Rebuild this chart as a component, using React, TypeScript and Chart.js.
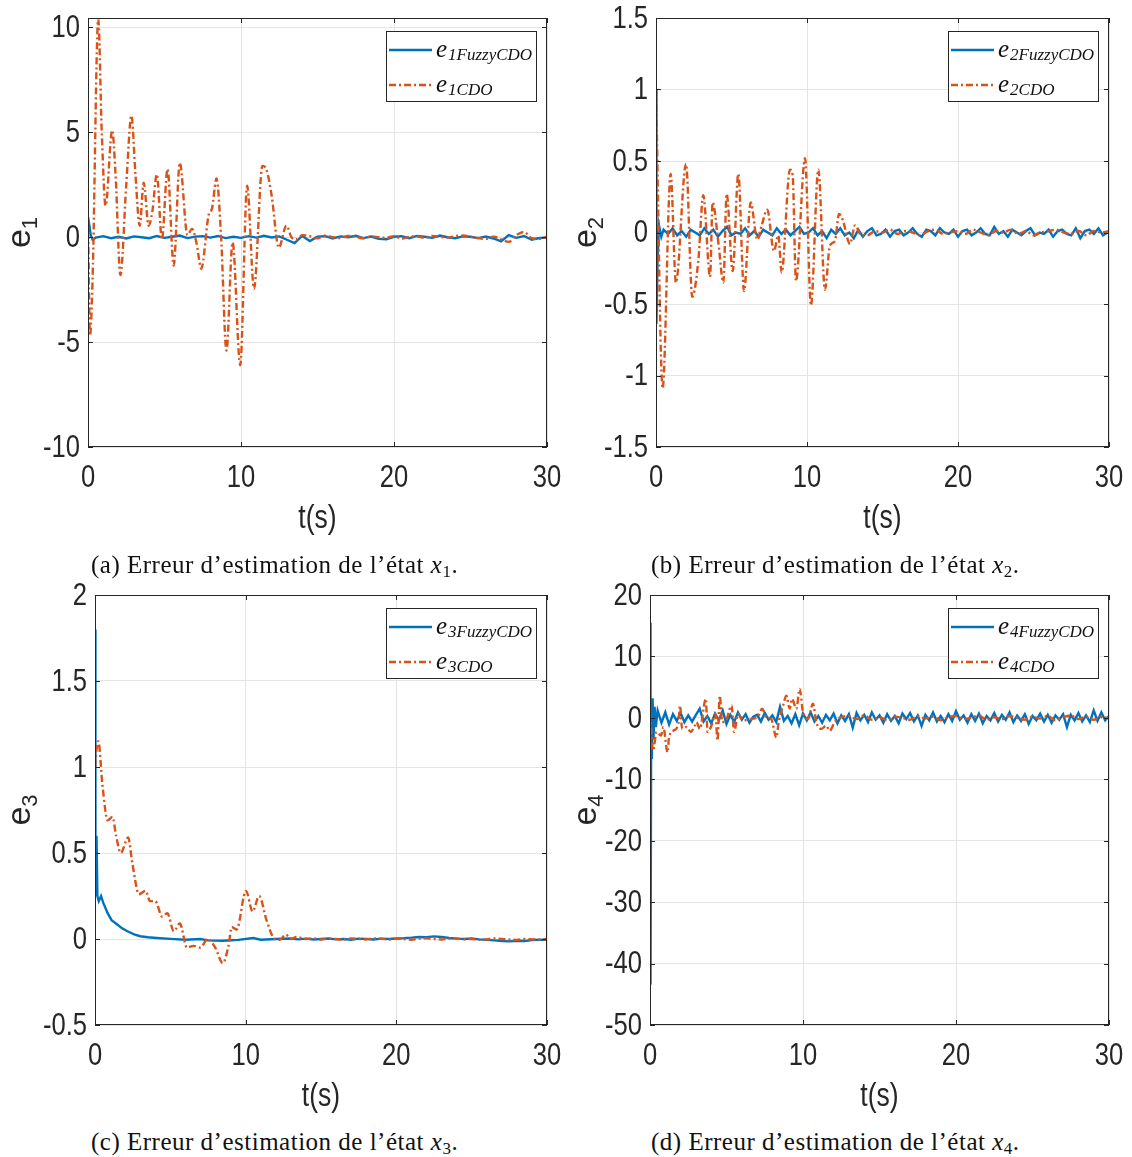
import React, { useEffect, useRef } from 'react';
import { Chart, registerables } from 'chart.js';

Chart.register(...registerables);

type Pt = [number, number];

// ---------------- shared axis data ----------------
const X_TICKS = [0, 10, 20, 30];
const X_TICK_LABELS = ['0', '10', '20', '30'];
const X_MIN = 0;
const X_MAX = 30;
const X_TITLE = 't(s)';

// ---------------- panel (a) : e1 ----------------
const A_Y_TICKS = [-10, -5, 0, 5, 10];
const A_Y_LABELS = ['-10', '-5', '0', '5', '10'];
const A_FUZZY_HEAD: Pt[] = [[0, 0.95], [0.08, 0.6], [0.18, 0.1], [0.3, -0.12], [0.5, -0.02]];
const A_FUZZY_TAIL = [
  0.05, -0.05, 0.02, -0.06, 0.04, 0.0, -0.05, 0.06, -0.03, 0.02,
  0.08, -0.04, 0.03, 0.05, -0.02, 0.06, -0.04, 0.02, -0.03, 0.05,
  -0.02, 0.07, -0.01, 0.04, -0.12, -0.28, 0.06, -0.18, 0.03, 0.05,
  -0.06, 0.04, 0.0, 0.07, -0.04, 0.03, -0.08, -0.1, 0.02, 0.05,
  -0.05, 0.06, 0.02, -0.03, 0.08, 0.0, -0.05, 0.04, 0.02, -0.04,
  0.03, -0.06, -0.2, 0.1, -0.03, 0.06, -0.12, -0.04, -0.02,
];
const A_FUZZY_T0 = 1.0;
const A_FUZZY_DT = 0.5;
const A_CDO_HEAD: Pt[] = [
  [0, 0.95], [0.13, -4.7], [0.3, -2], [0.67, 10.4], [0.9, 5], [1.15, 1.5], [1.58, 5.1], [1.8, 3],
  [2.12, -1.8], [2.5, 2.5], [2.84, 5.8], [3.1, 3], [3.38, 0.55], [3.64, 2.6], [3.96, 0.55], [4.2, 1.2],
  [4.5, 3.0], [4.83, -0.1], [5.2, 3.25], [5.6, -1.35], [6.0, 3.55], [6.5, 0.1], [6.8, 0.4], [7.1, -0.3],
  [7.4, -1.5], [7.9, 1.1], [8.1, 1.35], [8.4, 2.8], [8.7, 0], [9.05, -5.4], [9.45, -0.25], [9.95, -6.1],
  [10.4, 2.45], [10.85, -2.45], [11.4, 3.4], [11.65, 3.25], [12.0, 2.0], [12.47, -0.5], [12.97, 0.55],
  [13.3, 0.0], [13.65, -0.1],
];
const A_CDO_TAIL = [
  0.1, 0.05, -0.05, 0.08, 0.0, -0.04, 0.06, 0.02, -0.05, 0.04,
  0.0, -0.03, 0.05, -0.06, 0.02, 0.04, -0.03, 0.06, 0.02, -0.02,
  0.05, 0.08, 0.02, -0.04, -0.08, 0.03, -0.1, -0.22, 0.1, 0.25,
  -0.05, -0.08, 0.02,
];
const A_CDO_T0 = 14;
const A_CDO_DT = 0.5;

// ---------------- panel (b) : e2 ----------------
const B_Y_TICKS = [-1.5, -1, -0.5, 0, 0.5, 1, 1.5];
const B_Y_LABELS = ['-1.5', '-1', '-0.5', '0', '0.5', '1', '1.5'];
const B_FUZZY_HEAD: Pt[] = [[0, 1.0], [0.03, -0.64], [0.1, -0.2], [0.2, 0.05], [0.35, -0.03]];
const B_FUZZY_TAIL = [
  0.02, -0.01, 0.03, -0.02, 0.01, -0.03, 0.02, 0.0, -0.02, 0.03,
  -0.01, 0.02, -0.03, 0.01, 0.04, -0.02, 0.0, -0.01, 0.03, -0.02,
  0.01, -0.03, 0.02, 0.0, -0.02, 0.03, -0.01, 0.02, -0.02, 0.01,
  0.04, -0.01, 0.0, 0.03, -0.02, 0.01, -0.04, 0.02, -0.01, 0.03,
  -0.02, 0.0, -0.04, 0.02, -0.03, 0.01, 0.03, -0.02, -0.01, 0.02,
  -0.03, 0.01, 0.02, -0.02, 0.0, 0.03, -0.01, -0.03, 0.02, 0.01,
  -0.02, 0.03, 0.0, -0.01, 0.02, -0.03, 0.01, 0.02, -0.02, 0.0,
  0.03, -0.01, -0.02, 0.04, -0.01, 0.01, -0.03, 0.02, 0.0, -0.02,
  0.01, 0.03, -0.02, 0.0, -0.01, 0.02, -0.03, 0.01, 0.02, -0.01,
  -0.02, 0.03, -0.04, 0.01, 0.02, -0.01, 0.03, -0.02, 0.0,
];
const B_FUZZY_T0 = 0.5;
const B_FUZZY_DT = 0.3;
const B_CDO_HEAD: Pt[] = [
  [0, 1.0], [0.44, -1.09], [0.97, 0.41], [1.32, -0.35], [1.99, 0.48], [2.4, -0.45], [2.8, -0.2],
  [3.13, 0.26], [3.58, -0.31], [3.75, 0.21], [4.13, -0.07], [4.46, -0.35], [4.68, 0.27], [5.08, -0.27],
  [5.45, 0.41], [5.83, -0.41], [6.27, 0.21], [6.71, -0.05], [7.0, 0.05], [7.37, 0.16], [7.81, -0.13],
  [8.1, -0.02], [8.32, -0.28], [8.87, 0.44], [9.05, 0.4], [9.27, -0.34], [9.87, 0.52], [10.26, -0.51],
  [10.75, 0.44], [11.19, -0.4], [11.52, -0.09], [11.85, -0.06], [12.12, 0.13], [12.36, 0.09],
  [12.85, -0.08], [13.18, 0.05], [13.6, -0.02],
];
const B_CDO_TAIL = [
  -0.02, 0.01, 0.0, 0.02, -0.01, 0.01, 0.0, -0.02, 0.01, 0.02,
  -0.01, 0.0, 0.01, -0.01, 0.02, 0.0, -0.02, 0.01, 0.0, 0.02,
  -0.01, 0.01, -0.02, 0.0, 0.01, 0.02, 0.0, -0.01, 0.01, -0.02,
  0.01, 0.0, 0.01,
];
const B_CDO_T0 = 14;
const B_CDO_DT = 0.5;

// ---------------- panel (c) : e3 ----------------
const C_Y_TICKS = [-0.5, 0, 0.5, 1, 1.5, 2];
const C_Y_LABELS = ['-0.5', '0', '0.5', '1', '1.5', '2'];
const C_FUZZY_HEAD: Pt[] = [
  [0, 1.8], [0.03, 0.25], [0.1, 0.6], [0.16, 0.25], [0.25, 0.22], [0.4, 0.25], [0.55, 0.21],
  [0.84, 0.15], [1.1, 0.11], [1.5, 0.083], [1.8, 0.062], [2.15, 0.045], [2.6, 0.027], [3.0, 0.016],
  [3.5, 0.01], [4.1, 0.006], [5.0, 0.001], [6.0, -0.004], [7.0, 0.0], [7.5, -0.008], [8.5, -0.01],
  [9.5, -0.005], [10.5, 0.006], [11.0, -0.004], [12.0, 0.0], [13.0, 0.003], [13.5, -0.002],
];
const C_FUZZY_TAIL = [
  0.002, -0.003, 0.0, 0.003, -0.002, 0.0, -0.004, 0.002, 0.0, -0.003,
  0.002, 0.0, 0.003, 0.005, 0.008, 0.012, 0.01, 0.015, 0.012, 0.006,
  0.002, 0.0, 0.003, -0.002, -0.005, -0.008, -0.012, -0.014, -0.01, -0.012,
  -0.006, -0.004, -0.005,
];
const C_FUZZY_T0 = 14;
const C_FUZZY_DT = 0.5;
const C_CDO_HEAD: Pt[] = [
  [0, 1.0], [0.1, 1.1], [0.22, 1.15], [0.5, 0.89], [0.84, 0.69], [1.16, 0.71], [1.4, 0.6], [1.71, 0.5],
  [2.2, 0.59], [2.48, 0.44], [2.92, 0.26], [3.36, 0.28], [3.65, 0.22], [4.0, 0.22], [4.46, 0.13],
  [4.8, 0.15], [5.23, 0.045], [5.63, 0.09], [6.1, -0.05], [6.55, -0.04], [7.0, -0.05], [7.47, 0.0],
  [7.98, -0.05], [8.48, -0.14], [8.86, -0.04], [9.08, 0.07], [9.4, 0.055], [10.02, 0.28], [10.46, 0.16],
  [10.9, 0.25], [11.38, 0.11], [11.93, 0.0], [12.26, -0.005], [12.66, 0.025], [13.03, 0.0], [13.36, 0.012],
];
const C_CDO_TAIL = [
  0.0, 0.004, -0.003, 0.002, 0.0, -0.004, 0.003, 0.0, -0.002, 0.003,
  0.001, -0.003, 0.002, 0.0, -0.004, 0.002, 0.004, 0.0, -0.003, 0.002,
  0.003, -0.002, 0.0, -0.004, -0.002, 0.003, 0.0, -0.003, -0.005, 0.0,
  -0.002, -0.004, 0.0,
];
const C_CDO_T0 = 14;
const C_CDO_DT = 0.5;

// ---------------- panel (d) : e4 ----------------
const D_Y_TICKS = [-50, -40, -30, -20, -10, 0, 10, 20];
const D_Y_LABELS = ['-50', '-40', '-30', '-20', '-10', '0', '10', '20'];
const D_FUZZY_HEAD: Pt[] = [
  [0, 0], [0.02, 15.5], [0.05, -43.4], [0.08, 2.5], [0.12, -6.7], [0.17, 3.2], [0.23, -3.5],
  [0.3, 1.8], [0.38, -1.5],
];
const D_FUZZY_TAIL = [
  1.2, -0.8, 0.9, -1.1, 0.6, -0.5, 0.8, -0.7, 0.4, -0.6,
  0.5, 1.5, -0.6, 0.3, -0.9, 0.7, -0.4, 1.2, -1.0, 0.5,
  -0.7, 0.9, -0.3, 0.6, -0.8, 0.2, 0.5, -0.6, 0.8, -0.3,
  0.4, -0.7, 1.8, -0.5, 0.3, -0.9, 0.6, -1.2, 0.7, -0.4,
  0.9, -0.6, 0.3, -0.8, 0.5, -0.4, 0.7, -0.9, 0.4, -0.5,
  0.6, -1.6, 0.8, -0.4, 0.5, -0.7, 0.9, -0.3, 0.4, -0.8,
  0.6, -0.5, 0.3, -0.9, 0.7, -0.2, 0.8, -0.6, 0.4, -1.3,
  0.5, -0.4, 0.9, -0.6, 0.3, -0.7, 0.6, -0.5, 1.1, -0.3,
  0.4, -0.8, 0.6, -0.5, 0.7, -0.9, 0.3, -0.4, 0.8, -0.6,
  0.5, -0.3, 0.9, -0.7, 0.4, -0.5, 0.6, -1.0, 0.3, -0.4,
  0.7, -0.6, 0.5, -0.8, 0.4, -0.3, 0.6, -1.5, 0.5, -0.4,
  0.8, -0.6, 0.4, -0.7, 1.2, -0.5, 0.9, -0.4, 0.3,
];
const D_FUZZY_T0 = 0.5;
const D_FUZZY_DT = 0.25;
const D_CDO_HEAD: Pt[] = [
  [0, 0.9], [0.2, -5.3], [0.43, -2.3], [0.72, -2.9], [0.87, -1.5], [1.15, -5.6], [1.24, -3.2],
  [1.52, -2.1], [1.85, -1.0], [1.96, 2.0], [2.1, -1.8], [2.39, -1.5], [2.67, -2.3], [2.93, -1.25],
  [3.04, -0.7], [3.26, -1.8], [3.65, 3.1], [3.76, -2.3], [4.02, -1.25], [4.28, 0.65], [4.41, -3.7],
  [4.56, 3.6], [4.72, -0.7], [5.0, -0.2], [5.33, 2.0], [5.5, -2.3], [5.76, 0.65], [6.09, -0.4],
  [6.63, -0.2], [7.07, 0.3], [7.33, 1.5], [7.6, 0.1], [7.93, -0.2], [8.26, -3.2], [8.41, -0.7],
  [8.7, 2.0], [8.91, 3.6], [9.13, 1.5], [9.28, 3.1], [9.57, 1.5], [9.78, 4.7], [10.0, 0.9],
  [10.33, -0.2], [10.65, 2.3], [10.87, -0.7], [11.2, -1.8], [11.52, -1.25], [11.74, -2.1],
  [12.07, -0.7], [12.5, 0.1],
];
const D_CDO_TAIL = [
  0.3, -0.2, 0.4, -0.3, 0.1, -0.4, 0.2, 0.0, -0.3, 0.3,
  -0.1, 0.2, -0.4, 0.1, 0.3, -0.2, 0.0, 0.4, -0.3, 0.1,
  -0.2, 0.3, 0.0, -0.3, 0.2, -0.1, 0.3, -0.4, 0.1, 0.4,
  -0.2, 0.2, -0.3, 0.1, 0.0,
];
const D_CDO_T0 = 13;
const D_CDO_DT = 0.5;

// ---------------- styles ----------------
const BLUE = '#0072BD';
const ORANGE = '#D95319';
const GRID = '#e4e4e4';
const AXIS = '#262626';
const DASH = [7, 3, 2, 3];
const LINE_W = 2.4;
const TICK_FONT = '32px "Liberation Sans", Arial, sans-serif';
const TICK_SX = 0.8;
const TITLE_FONT = '34px "Liberation Sans", Arial, sans-serif';
const TITLE_SX = 0.78;

function series(head: Pt[], tail: number[], t0: number, dt: number) {
  return head
    .map(([x, y]) => ({ x, y }))
    .concat(tail.map((y, i) => ({ x: Math.round((t0 + i * dt) * 1000) / 1000, y })));
}

interface Panel {
  key: string;
  idx: string;
  canvas: { left: number; top: number; w: number; h: number };
  area: { l: number; t: number; r: number; b: number };
  yMin: number;
  yMax: number;
  yTicks: number[];
  yLabels: string[];
  yTitleX: number;
  fuzzy: { x: number; y: number }[];
  cdo: { x: number; y: number }[];
}

const PANELS: Panel[] = [
  {
    key: 'a', idx: '1',
    canvas: { left: 0, top: 0, w: 566, h: 545 },
    area: { l: 88, t: 18, r: 547, b: 447 },
    yMin: -10, yMax: 10.45, yTicks: A_Y_TICKS, yLabels: A_Y_LABELS, yTitleX: 30,
    fuzzy: series(A_FUZZY_HEAD, A_FUZZY_TAIL, A_FUZZY_T0, A_FUZZY_DT),
    cdo: series(A_CDO_HEAD, A_CDO_TAIL, A_CDO_T0, A_CDO_DT),
  },
  {
    key: 'b', idx: '2',
    canvas: { left: 566, top: 0, w: 566, h: 545 },
    area: { l: 656, t: 18, r: 1109, b: 447 },
    yMin: -1.5, yMax: 1.5, yTicks: B_Y_TICKS, yLabels: B_Y_LABELS, yTitleX: 596,
    fuzzy: series(B_FUZZY_HEAD, B_FUZZY_TAIL, B_FUZZY_T0, B_FUZZY_DT),
    cdo: series(B_CDO_HEAD, B_CDO_TAIL, B_CDO_T0, B_CDO_DT),
  },
  {
    key: 'c', idx: '3',
    canvas: { left: 0, top: 575, w: 566, h: 550 },
    area: { l: 95, t: 595, r: 547, b: 1025 },
    yMin: -0.5, yMax: 2, yTicks: C_Y_TICKS, yLabels: C_Y_LABELS, yTitleX: 30,
    fuzzy: series(C_FUZZY_HEAD, C_FUZZY_TAIL, C_FUZZY_T0, C_FUZZY_DT),
    cdo: series(C_CDO_HEAD, C_CDO_TAIL, C_CDO_T0, C_CDO_DT),
  },
  {
    key: 'd', idx: '4',
    canvas: { left: 566, top: 575, w: 566, h: 550 },
    area: { l: 650, t: 595, r: 1109, b: 1025 },
    yMin: -50, yMax: 20, yTicks: D_Y_TICKS, yLabels: D_Y_LABELS, yTitleX: 596,
    fuzzy: series(D_FUZZY_HEAD, D_FUZZY_TAIL, D_FUZZY_T0, D_FUZZY_DT),
    cdo: series(D_CDO_HEAD, D_CDO_TAIL, D_CDO_T0, D_CDO_DT),
  },
];

function scaledText(ctx: any, s: string, x: number, y: number, font: string, align: string, sx: number) {
  ctx.save();
  ctx.translate(x, y);
  ctx.scale(sx, 1);
  ctx.font = font;
  ctx.textAlign = align;
  ctx.textBaseline = 'middle';
  ctx.fillText(s, 0, 0);
  ctx.restore();
}

function decor(p: Panel) {
  return {
    id: 'decor_' + p.key,
    afterDraw(chart: any) {
      const { ctx, chartArea: a, scales } = chart;
      const xs = scales.x;
      const ys = scales.y;
      ctx.save();
      // axes box
      ctx.strokeStyle = AXIS;
      ctx.lineWidth = 1;
      ctx.setLineDash([]);
      ctx.strokeRect(Math.round(a.left) + 0.5, Math.round(a.top) + 0.5,
        Math.round(a.right - a.left) - 1, Math.round(a.bottom - a.top) - 1);
      // inward tick marks
      ctx.beginPath();
      X_TICKS.forEach((v) => {
        const px = Math.round(xs.getPixelForValue(v)) + 0.5;
        ctx.moveTo(px, a.bottom); ctx.lineTo(px, a.bottom - 5);
        ctx.moveTo(px, a.top); ctx.lineTo(px, a.top + 5);
      });
      p.yTicks.forEach((v) => {
        const py = Math.round(ys.getPixelForValue(v)) + 0.5;
        ctx.moveTo(a.left, py); ctx.lineTo(a.left + 5, py);
        ctx.moveTo(a.right, py); ctx.lineTo(a.right - 5, py);
      });
      ctx.stroke();

      // tick labels
      ctx.fillStyle = AXIS;
      p.yTicks.forEach((v, i) => {
        scaledText(ctx, p.yLabels[i], a.left - 8, ys.getPixelForValue(v) + 1, TICK_FONT, 'right', TICK_SX);
      });
      X_TICKS.forEach((v, i) => {
        scaledText(ctx, X_TICK_LABELS[i], xs.getPixelForValue(v), a.bottom + 31, TICK_FONT, 'center', TICK_SX);
      });
      // x title
      scaledText(ctx, X_TITLE, (a.left + a.right) / 2, a.bottom + 72, TITLE_FONT, 'center', TITLE_SX);

      // y title: e with subscript, rotated
      ctx.save();
      ctx.translate(p.yTitleX - p.canvas.left, (a.top + a.bottom) / 2);
      ctx.rotate(-Math.PI / 2);
      ctx.textBaseline = 'alphabetic';
      ctx.textAlign = 'left';
      ctx.font = TITLE_FONT;
      const we = ctx.measureText('e').width;
      ctx.font = '22px "Liberation Sans", Arial, sans-serif';
      const ws = ctx.measureText(p.idx).width;
      const start = -(we + ws) / 2;
      ctx.font = TITLE_FONT;
      ctx.fillText('e', start, 0);
      ctx.font = '22px "Liberation Sans", Arial, sans-serif';
      ctx.fillText(p.idx, start + we, 7);
      ctx.restore();

      // legend
      const bw = 150;
      const bh = 70;
      const bx = Math.round(a.right - 11 - bw);
      const by = Math.round(a.top + 13);
      ctx.fillStyle = '#ffffff';
      ctx.fillRect(bx, by, bw, bh);
      ctx.strokeStyle = AXIS;
      ctx.lineWidth = 1;
      ctx.strokeRect(bx + 0.5, by + 0.5, bw, bh);
      const rows = [
        { color: BLUE, dash: [] as number[], sub: p.idx + 'FuzzyCDO' },
        { color: ORANGE, dash: DASH, sub: p.idx + 'CDO' },
      ];
      rows.forEach((r, i) => {
        const y = by + 19 + 35 * i;
        ctx.beginPath();
        ctx.setLineDash(r.dash);
        ctx.strokeStyle = r.color;
        ctx.lineWidth = LINE_W;
        ctx.moveTo(bx + 3, y);
        ctx.lineTo(bx + 46, y);
        ctx.stroke();
        ctx.setLineDash([]);
        ctx.fillStyle = '#111';
        ctx.textAlign = 'left';
        ctx.textBaseline = 'alphabetic';
        ctx.font = 'italic 25px "Liberation Serif", "DejaVu Serif", serif';
        ctx.fillText('e', bx + 50, y + 6.5);
        const ew = ctx.measureText('e').width;
        ctx.font = 'italic 17px "Liberation Serif", "DejaVu Serif", serif';
        ctx.fillText(r.sub, bx + 50 + ew + 1, y + 10);
      });
      ctx.restore();
    },
  };
}

function makeConfig(p: Panel): any {
  const c = p.canvas;
  const a = {
    l: p.area.l - c.left,
    t: p.area.t - c.top,
    r: p.area.r - c.left,
    b: p.area.b - c.top,
  };
  return {
    type: 'line',
    data: {
      datasets: [
        {
          label: 'e' + p.idx + 'CDO',
          data: p.cdo,
          borderColor: ORANGE,
          borderWidth: LINE_W,
          borderDash: DASH,
          pointRadius: 0,
          fill: false,
          cubicInterpolationMode: 'monotone',
          order: 0,
        },
        {
          label: 'e' + p.idx + 'FuzzyCDO',
          data: p.fuzzy,
          borderColor: BLUE,
          borderWidth: LINE_W,
          pointRadius: 0,
          fill: false,
          tension: 0,
          order: 1,
        },
      ],
    },
    options: {
      responsive: false,
      maintainAspectRatio: false,
      animation: false,
      events: [],
      layout: { padding: { left: 0, top: a.t, right: c.w - a.r, bottom: 0 } },
      plugins: {
        legend: { display: false },
        tooltip: { enabled: false },
        title: { display: false },
      },
      scales: {
        x: {
          type: 'linear',
          min: X_MIN,
          max: X_MAX,
          grid: { color: GRID, lineWidth: 1, drawTicks: false },
          border: { display: false },
          ticks: { display: false },
          afterBuildTicks: (s: any) => { s.ticks = X_TICKS.map((v) => ({ value: v })); },
          afterFit: (s: any) => {
            s.height = c.h - a.b;
            s.paddingLeft = 0; s.paddingRight = 0; s.paddingTop = 0; s.paddingBottom = 0;
          },
        },
        y: {
          type: 'linear',
          min: p.yMin,
          max: p.yMax,
          grid: { color: GRID, lineWidth: 1, drawTicks: false },
          border: { display: false },
          ticks: { display: false, includeBounds: false },
          afterBuildTicks: (s: any) => { s.ticks = p.yTicks.map((v) => ({ value: v })); },
          afterFit: (s: any) => {
            s.width = a.l;
            s.paddingLeft = 0; s.paddingRight = 0; s.paddingTop = 0; s.paddingBottom = 0;
          },
        },
      },
    },
    plugins: [decor(p)],
  };
}

function ChartPanel({ p }: { p: Panel }) {
  const ref = useRef<HTMLCanvasElement>(null);
  useEffect(() => {
    const chart = new Chart(ref.current as HTMLCanvasElement, makeConfig(p));
    return () => chart.destroy();
  }, [p]);
  return (
    <canvas
      ref={ref}
      width={p.canvas.w}
      height={p.canvas.h}
      style={{ position: 'absolute', left: p.canvas.left, top: p.canvas.top, width: p.canvas.w, height: p.canvas.h }}
    />
  );
}

const CAPTIONS = [
  { letter: 'a', idx: '1', left: 91, top: 551 },
  { letter: 'b', idx: '2', left: 651, top: 551 },
  { letter: 'c', idx: '3', left: 91, top: 1128 },
  { letter: 'd', idx: '4', left: 651, top: 1128 },
];

export default function App() {
  return (
    <div style={{ position: 'absolute', left: 0, top: 0, width: 1132, height: 1157, overflow: 'hidden', background: '#fff' }}>
      {PANELS.map((p) => <ChartPanel key={p.key} p={p} />)}
      {CAPTIONS.map((c) => (
        <div
          key={c.letter}
          style={{
            position: 'absolute', left: c.left, top: c.top, whiteSpace: 'nowrap',
            font: '25px "Liberation Serif", "DejaVu Serif", serif', lineHeight: '28px',
            letterSpacing: '0.5px', color: '#111',
          }}
        >
          ({c.letter}) Erreur d’estimation de l’état <i>x</i>
          <span style={{ fontSize: 17, position: 'relative', top: 4 }}>{c.idx}</span>.
        </div>
      ))}
    </div>
  );
}
